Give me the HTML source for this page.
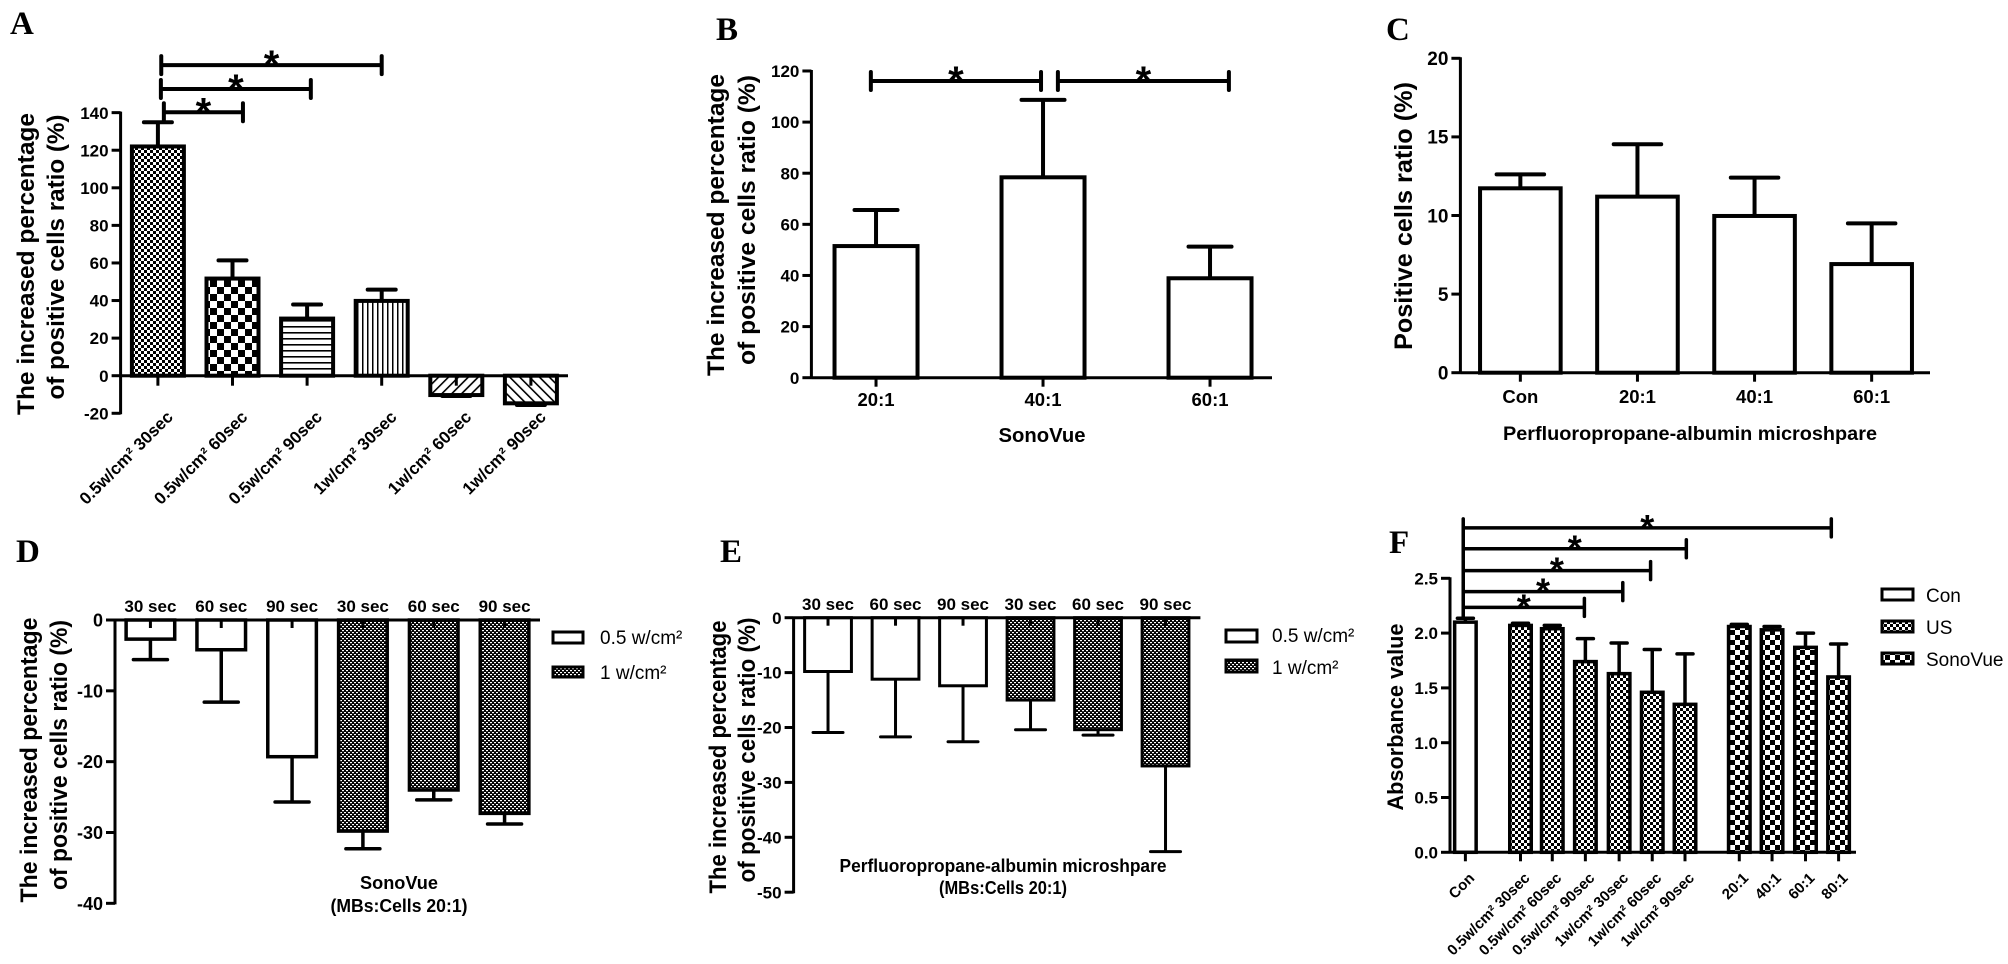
<!DOCTYPE html>
<html><head><meta charset="utf-8">
<style>
html,body{margin:0;padding:0;background:#fff;}
svg{display:block;}
text{font-family:"Liberation Sans",Arial,sans-serif;font-weight:bold;fill:#000;}
.letter{font-family:"Liberation Serif","Times New Roman",serif;font-weight:bold;font-size:33px;}
.leg{font-weight:normal;font-size:19px;}
</style></head>
<body>
<svg id="fig" xmlns="http://www.w3.org/2000/svg" width="2008" height="964" viewBox="0 0 2008 964">
<defs>
<pattern id="fineCheck" width="6" height="6" patternUnits="userSpaceOnUse"><rect width="6" height="6" fill="#fff"/><rect width="3" height="3" fill="#000"/><rect x="3" y="3" width="3" height="3" fill="#000"/></pattern>
<pattern id="boldCheck" width="14" height="14" patternUnits="userSpaceOnUse"><rect width="14" height="14" fill="#fff"/><rect width="7" height="7" fill="#000"/><rect x="7" y="7" width="7" height="7" fill="#000"/></pattern>
<pattern id="hLines" width="6" height="6" patternUnits="userSpaceOnUse"><rect width="6" height="6" fill="#fff"/><rect y="2" width="6" height="1.6" fill="#000"/></pattern>
<pattern id="vLines" width="5" height="5" patternUnits="userSpaceOnUse"><rect width="5" height="5" fill="#fff"/><rect x="2" width="1.5" height="5" fill="#000"/></pattern>
<pattern id="diagF" width="7" height="7" patternUnits="userSpaceOnUse" patternTransform="rotate(45)"><rect width="7" height="7" fill="#fff"/><rect x="2" width="1.6" height="7" fill="#000"/></pattern>
<pattern id="diagB" width="7" height="7" patternUnits="userSpaceOnUse" patternTransform="rotate(-45)"><rect width="7" height="7" fill="#fff"/><rect x="2" width="1.6" height="7" fill="#000"/></pattern>
<pattern id="darkDots" width="4" height="4" patternUnits="userSpaceOnUse"><rect width="4" height="4" fill="#000"/><rect x="0" y="0" width="2" height="1.2" fill="#fff"/><rect x="2" y="2" width="2" height="1.2" fill="#fff"/></pattern>
<pattern id="sonoCheck" width="10" height="10" patternUnits="userSpaceOnUse"><rect width="10" height="10" fill="#fff"/><rect width="5" height="5" fill="#000"/><rect x="5" y="5" width="5" height="5" fill="#000"/></pattern>
</defs>

<text class="letter" x="10" y="34">A</text>
<text class="letter" x="716" y="40">B</text>
<text class="letter" x="1386" y="40">C</text>
<text class="letter" x="16" y="562">D</text>
<text class="letter" x="720" y="562">E</text>
<text class="letter" x="1389" y="553">F</text>

<g font-size="24.5">
<text transform="translate(34,264) rotate(-90)" text-anchor="middle" textLength="302" lengthAdjust="spacingAndGlyphs">The increased percentage</text>
<text transform="translate(64,257) rotate(-90)" text-anchor="middle" textLength="285" lengthAdjust="spacingAndGlyphs">of positive cells ratio (%)</text>
</g>
<g font-size="24.5">
<text transform="translate(724,225) rotate(-90)" text-anchor="middle" textLength="302" lengthAdjust="spacingAndGlyphs">The increased percentage</text>
<text transform="translate(755,220) rotate(-90)" text-anchor="middle" textLength="290" lengthAdjust="spacingAndGlyphs">of positive cells ratio (%)</text>
</g>
<text transform="translate(1412,216) rotate(-90)" text-anchor="middle" font-size="25" textLength="268" lengthAdjust="spacingAndGlyphs">Positive cells ratio (%)</text>
<g font-size="24.5">
<text transform="translate(37,760) rotate(-90)" text-anchor="middle" textLength="285" lengthAdjust="spacingAndGlyphs">The increased percentage</text>
<text transform="translate(67,755) rotate(-90)" text-anchor="middle" textLength="270" lengthAdjust="spacingAndGlyphs">of positive cells ratio (%)</text>
</g>
<g font-size="24.5">
<text transform="translate(726,757) rotate(-90)" text-anchor="middle" textLength="273" lengthAdjust="spacingAndGlyphs">The increased percentage</text>
<text transform="translate(755,750) rotate(-90)" text-anchor="middle" textLength="265" lengthAdjust="spacingAndGlyphs">of positive cells ratio (%)</text>
</g>
<text transform="translate(1403,717) rotate(-90)" text-anchor="middle" font-size="22" textLength="187" lengthAdjust="spacingAndGlyphs">Absorbance value</text>

<text x="1042" y="442" text-anchor="middle" font-size="20" textLength="87" lengthAdjust="spacingAndGlyphs">SonoVue</text>
<text x="1690" y="440" text-anchor="middle" font-size="19" textLength="374" lengthAdjust="spacingAndGlyphs">Perfluoropropane-albumin microshpare</text>
<g font-size="18">
<text x="399" y="889" text-anchor="middle" textLength="78" lengthAdjust="spacingAndGlyphs">SonoVue</text>
<text x="399" y="912" text-anchor="middle" textLength="137" lengthAdjust="spacingAndGlyphs">(MBs:Cells 20:1)</text>
</g>
<g font-size="18">
<text x="1003" y="872" text-anchor="middle" textLength="327" lengthAdjust="spacingAndGlyphs">Perfluoropropane-albumin microshpare</text>
<text x="1003" y="894" text-anchor="middle" textLength="128" lengthAdjust="spacingAndGlyphs">(MBs:Cells 20:1)</text>
</g>

<g>
<rect x="553" y="632" width="30" height="11" fill="#fff" stroke="#000" stroke-width="3"/>
<text class="leg" x="600" y="644">0.5 w/cm²</text>
<rect x="553" y="667" width="30" height="10" fill="url(#darkDots)" stroke="#000" stroke-width="3"/>
<text class="leg" x="600" y="679">1 w/cm²</text>
</g>
<g>
<rect x="1226" y="630" width="31" height="12" fill="#fff" stroke="#000" stroke-width="3"/>
<text class="leg" x="1272" y="642">0.5 w/cm²</text>
<rect x="1226" y="660" width="31" height="12" fill="url(#darkDots)" stroke="#000" stroke-width="3"/>
<text class="leg" x="1272" y="674">1 w/cm²</text>
</g>
<g>
<rect x="1882" y="589" width="31" height="11" fill="#fff" stroke="#000" stroke-width="3"/>
<text class="leg" x="1926" y="602" font-size="20">Con</text>
<rect x="1882" y="621" width="31" height="11" fill="url(#fineCheck)" stroke="#000" stroke-width="3"/>
<text class="leg" x="1926" y="634" font-size="20">US</text>
<rect x="1882" y="653" width="31" height="11" fill="url(#sonoCheck)" stroke="#000" stroke-width="3"/>
<text class="leg" x="1926" y="666" font-size="20">SonoVue</text>
</g>

<g id="panelA"></g>
<g id="panelB"></g>
<g id="panelC"></g>
<g id="panelD"></g>
<g id="panelE"></g>
<g id="panelF"></g>
</svg>

<script>
// ---- Panel A data ----
const aCategories = ['0.5w/cm² 30sec','0.5w/cm² 60sec','0.5w/cm² 90sec','1w/cm² 30sec','1w/cm² 60sec','1w/cm² 90sec'];
const aMeans = [122, 51.7, 30.4, 39.8, -10.3, -14.7];
const aErrors = [12.9, 9.7, 7.5, 6.0, 0.5, 0.9];
const aTicks = [-20, 0, 20, 40, 60, 80, 100, 120, 140];
const aBrackets = [[0.58, 1.64, 140.2], [0.54, 2.55, 152.6], [0.545, 3.5, 165.3]];
// ---- Panel B data ----
const bCategories = ['20:1', '40:1', '60:1'];
const bMeans = [51.5, 78.4, 38.9];
const bErrors = [14.1, 30.3, 12.4];
const bTicks = [0, 20, 40, 60, 80, 100, 120];
const bBrackets = [[0.356, 1.375, 116.1], [1.476, 2.5, 116.1]];
// ---- Panel C data ----
const cCategories = ['Con', '20:1', '40:1', '60:1'];
const cMeans = [11.73, 11.2, 9.97, 6.91];
const cErrors = [0.89, 3.33, 2.44, 2.59];
const cTicks = [0, 5, 10, 15, 20];
// ---- Panel D data ----
const dCategories = ['30 sec', '60 sec', '90 sec', '30 sec', '60 sec', '90 sec'];
const dMeans = [-2.7, -4.2, -19.3, -29.8, -24.0, -27.3];
const dErrors = [2.9, 7.4, 6.4, 2.5, 1.4, 1.5];
const dTicks = [-40, -30, -20, -10, 0];
// ---- Panel E data ----
const eCategories = ['30 sec', '60 sec', '90 sec', '30 sec', '60 sec', '90 sec'];
const eMeans = [-9.8, -11.2, -12.4, -15.0, -20.4, -27.0];
const eErrors = [11.1, 10.5, 10.2, 5.4, 1.0, 15.6];
const eTicks = [-50, -40, -30, -20, -10, 0];
// ---- Panel F data ----
const fCategories = ['Con','0.5w/cm² 30sec','0.5w/cm² 60sec','0.5w/cm² 90sec','1w/cm² 30sec','1w/cm² 60sec','1w/cm² 90sec','20:1','40:1','60:1','80:1'];
const fMeans = [2.10, 2.07, 2.04, 1.74, 1.63, 1.46, 1.35, 2.06, 2.03, 1.87, 1.60];
const fErrors = [0.035, 0.02, 0.03, 0.21, 0.28, 0.39, 0.46, 0.02, 0.03, 0.13, 0.30];
const fTicks = [0, 0.5, 1.0, 1.5, 2.0, 2.5];
const fBrackets = [[0.4, 4.06, 2.235], [0.4, 5.22, 2.378], [0.4, 6.06, 2.57], [0.4, 7.14, 2.77], [0.4, 11.52, 2.96]];

const NS = 'http://www.w3.org/2000/svg';
function mk(tag, attrs, parent) {
  const el = document.createElementNS(NS, tag);
  for (const k in attrs) el.setAttribute(k, attrs[k]);
  parent.appendChild(el);
  return el;
}

function drawPanel(cfg, cats, means, errs, ticks, brackets) {
  const g = document.getElementById(cfg.id);
  const y = v => cfg.y0 - v * cfg.k;
  const xc = i => cfg.ax + cfg.slot * cfg.pos[i];
  const sw = cfg.sw;
  means.forEach((m, i) => {
    const dir = m >= 0 ? 1 : -1;
    const e = m + dir * errs[i];
    const el = mk('line', {x1: xc(i), x2: xc(i), y1: y(m), y2: y(e), stroke: '#000', 'stroke-width': sw}, g);
    
    
    const cap = mk('line', {x1: xc(i) - cfg.cap / 2, x2: xc(i) + cfg.cap / 2, y1: y(e), y2: y(e), stroke: '#000', 'stroke-width': sw, 'stroke-linecap': 'round'}, g);
    
    
    const top = Math.min(y(0), y(m));
    const h = Math.abs(y(m) - y(0));
    const bar = mk('rect', {x: xc(i) - cfg.bw / 2, y: top, width: cfg.bw, height: h, fill: cfg.fills[i], stroke: '#000', 'stroke-width': sw}, g);
    
    
  });
  const yMin = ticks[0], yMax = ticks[ticks.length - 1];
  const ya = mk('line', {x1: cfg.ax, x2: cfg.ax, y1: y(yMax) - 1, y2: y(yMin) + 1, stroke: '#000', 'stroke-width': 3}, g);
  
  
  ticks.forEach(t => {
    const tk = mk('line', {x1: cfg.ax - 9, x2: cfg.ax, y1: y(t), y2: y(t), stroke: '#000', 'stroke-width': 3}, g);
    
    
    const tl = mk('text', {x: cfg.ax - 12, y: y(t) + cfg.tfs * 0.36, 'text-anchor': 'end', 'font-size': cfg.tfs}, g);
    tl.textContent = cfg.dec ? t.toFixed(cfg.dec) : String(t);
    
    
  });
  const xa = mk('line', {x1: cfg.ax, x2: cfg.end, y1: y(0), y2: y(0), stroke: '#000', 'stroke-width': 3}, g);
  
  
  cats.forEach((c, i) => {
    const tk = mk('line', {x1: xc(i), x2: xc(i), y1: y(0), y2: y(0) + cfg.xtick, stroke: '#000', 'stroke-width': 3}, g);
    
    
    let lb;
    if (cfg.labelMode === 'rot') {
      const lx = xc(i) + cfg.lx, ly = cfg.ly;
      lb = mk('text', {transform: 'translate(' + lx + ',' + ly + ') rotate(-45)', 'text-anchor': 'end', 'font-size': cfg.lfs}, g);
    } else {
      lb = mk('text', {x: xc(i), y: cfg.ly, 'text-anchor': 'middle', 'font-size': cfg.lfs}, g);
    }
    lb.textContent = c;
    
    
  });
  (brackets || []).forEach(b => {
    const x1 = cfg.ax + cfg.slot * b[0], x2 = cfg.ax + cfg.slot * b[1], yy = y(b[2]);
    const bl = mk('line', {x1: x1, x2: x2, y1: yy, y2: yy, stroke: '#000', 'stroke-width': cfg.bsw}, g);
    
    
    const e1 = mk('line', {x1: x1, x2: x1, y1: yy - cfg.bh, y2: yy + cfg.bh, stroke: '#000', 'stroke-width': cfg.bsw, 'stroke-linecap': 'round'}, g);
    
    
    const e2 = mk('line', {x1: x2, x2: x2, y1: yy - cfg.bh, y2: yy + cfg.bh, stroke: '#000', 'stroke-width': cfg.bsw, 'stroke-linecap': 'round'}, g);
    
    
    const st = mk('text', {x: (x1 + x2) / 2, y: yy + cfg.starDy, 'text-anchor': 'middle', 'font-size': cfg.sfs}, g);
    st.textContent = '*';
    
    
  });
}

const US = 'url(#fineCheck)', SV = 'url(#sonoCheck)', DK = 'url(#darkDots)';

drawPanel({id: 'panelA', ax: 120.6, end: 568, y0: 375.7, k: 1.879, slot: 74.6, pos: [0.5,1.5,2.5,3.5,4.5,5.5], bw: 52, cap: 28, sw: 4,
  fills: [US, 'url(#boldCheck)', 'url(#hLines)', 'url(#vLines)', 'url(#diagF)', 'url(#diagB)'],
  tfs: 17, xtick: 10, labelMode: 'rot', lx: 16, ly: 418, lfs: 17, bsw: 4, bh: 9, starDy: 13, sfs: 40},
  aCategories, aMeans, aErrors, aTicks, aBrackets);

drawPanel({id: 'panelB', ax: 811.4, end: 1272, y0: 377.7, k: 2.556, slot: 167, pos: [0.387,1.387,2.387], bw: 83, cap: 43, sw: 4,
  fills: ['#fff','#fff','#fff'], tfs: 17, xtick: 9, labelMode: 'below', ly: 406, lfs: 18.5, bsw: 4, bh: 9, starDy: 13, sfs: 40},
  bCategories, bMeans, bErrors, bTicks, bBrackets);

drawPanel({id: 'panelC', ax: 1460.4, end: 1930, y0: 372.7, k: 15.72, slot: 117.1, pos: [0.512,1.512,2.512,3.512], bw: 80.6, cap: 47.5, sw: 4,
  fills: ['#fff','#fff','#fff','#fff'], tfs: 19, xtick: 9, labelMode: 'below', ly: 403, lfs: 18.5},
  cCategories, cMeans, cErrors, cTicks, []);

drawPanel({id: 'panelD', ax: 115, end: 540, y0: 620, k: 7.083, slot: 70.83, pos: [0.5,1.5,2.5,3.5,4.5,5.5], bw: 48.6, cap: 34, sw: 3.5,
  fills: ['#fff','#fff','#fff',DK,DK,DK], tfs: 18, xtick: 8, labelMode: 'above', ly: 612, lfs: 17},
  dCategories, dMeans, dErrors, dTicks, []);

drawPanel({id: 'panelE', ax: 793.6, end: 1200.4, y0: 617.7, k: 5.49, slot: 67.5, pos: [0.51,1.51,2.51,3.51,4.51,5.51], bw: 46.8, cap: 30, sw: 3,
  fills: ['#fff','#fff','#fff',DK,DK,DK], tfs: 17, xtick: 8, labelMode: 'above', ly: 610, lfs: 17},
  eCategories, eMeans, eErrors, eTicks, []);

drawPanel({id: 'panelF', ax: 1450, end: 1856, y0: 852.3, k: 109.6, slot: 33.1, pos: [0.465,2.13,3.09,4.09,5.11,6.11,7.1,8.74,9.73,10.74,11.74], bw: 21.5, cap: 16, sw: 3.5,
  fills: ['#fff',US,US,US,US,US,US,SV,SV,SV,SV], tfs: 17, dec: 1, xtick: 9, labelMode: 'rot', lx: 10, ly: 879, lfs: 15, bsw: 3.5, bh: 9, starDy: 12, sfs: 36},
  fCategories, fMeans, fErrors, fTicks, fBrackets);

(function () {
  const g = document.getElementById('panelF');
  const yf = v => 852.3 - v * 109.6;
  const x = 1450 + 33.1 * 0.4;
  const ln = mk('line', {x1: x, x2: x, y1: yf(2.135), y2: yf(3.0), stroke: '#000', 'stroke-width': 3.5}, g);
  
  
})();
</script>
</body></html>
